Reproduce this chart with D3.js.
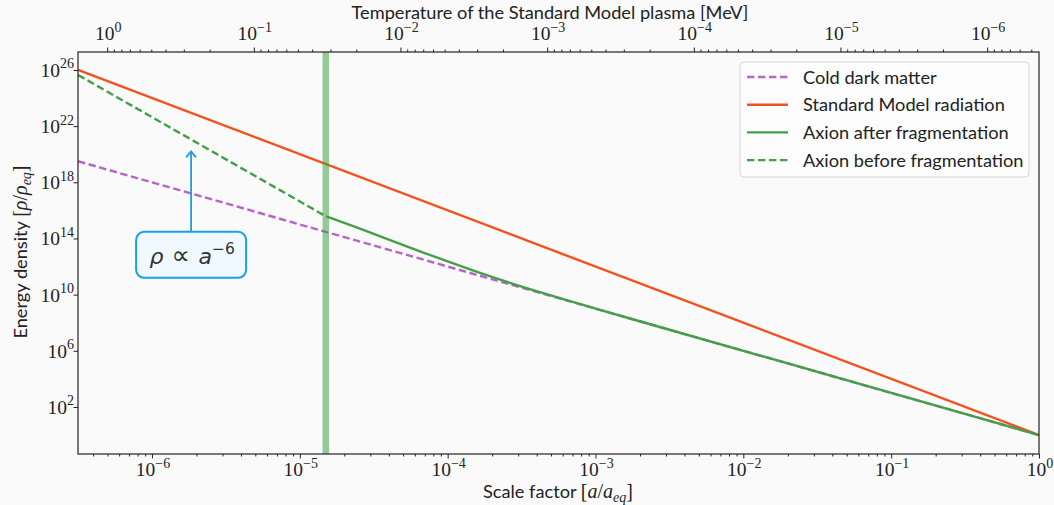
<!DOCTYPE html>
<html>
<head>
<meta charset="utf-8">
<script src="https://cdn.jsdelivr.net/npm/d3@7"></script>
<style>
  body { margin: 0; background: #fafafa; }
  svg { display: block; }
</style>
</head>
<body>
<svg id="chart"></svg>
<script>
// ---- data ----
var aDomain = [3.16e-7, 1];            // scale factor a/a_eq
var tempDomain = [1.58, 4.43e-7];      // temperature [MeV] at the same edges
var rhoDomain = [0.0447, 1.9e27];

var radiationA = [3.16e-7, 1];
var radiation = [1e26, 1];

var cdmA = [3.16e-7, 1];
var cdm = [3.16e19, 1];

var axionBeforeA = [3.16e-7, 1.5e-5];
var axionBefore = [4.4e25, 3.8e15];

var axionAfterA = [1.5e-5, 2.5e-5, 4e-5, 6.5e-5, 1e-4, 1.6e-4, 2.5e-4, 4e-4, 6.3e-4, 1e-3, 3e-3, 1];
var axionAfter = [3.8e15, 5.34e14, 8.24e13, 1.22e13, 2.3e12, 4.0e11, 8.3e10, 1.76e10, 4.2e9, 1.02e9, 3.71e7, 1];

var fragA = 1.5e-5;

var xTickExps = [-6, -5, -4, -3, -2, -1, 0];
var tTickExps = [0, -1, -2, -3, -4, -5, -6];
var yTickExps = [2, 6, 10, 14, 18, 22, 26];

var legendLabels = ["Cold dark matter", "Standard Model radiation", "Axion after fragmentation", "Axion before fragmentation"];

var annotA = 1.84e-6, annotTip = 1.6e20, annotText = 6.8e12;

// ---- layout ----
var W = 1054, H = 505;
var mLeft = 78, mRight = 1039, mTop = 52, mBottom = 454;

var cPurple = "#b565c8", cOrange = "#f4511e", cGreen = "#43a047", cBlue = "#1a9fe6";
var lw = 2.4, dash = "7.4,3.6";

var svg = d3.select("#chart").attr("width", W).attr("height", H);
svg.append("rect").attr("width", W).attr("height", H).attr("fill", "#fafafa");

var x = d3.scaleLog().domain(aDomain).range([mLeft, mRight]);
var xT = d3.scaleLog().domain(tempDomain).range([mLeft, mRight]);
var y = d3.scaleLog().domain(rhoDomain).range([mBottom, mTop]);

function pts(as, vs) { return as.map(function(a, i) { return [a, vs[i]]; }); }
var line = d3.line().x(function(d) { return x(d[0]); }).y(function(d) { return y(d[1]); });

var plot = svg.append("g");

plot.append("path").datum(pts(cdmA, cdm)).attr("d", line)
  .attr("fill", "none").attr("stroke", cPurple).attr("stroke-width", lw).attr("stroke-dasharray", dash);
plot.append("path").datum(pts(radiationA, radiation)).attr("d", line)
  .attr("fill", "none").attr("stroke", cOrange).attr("stroke-width", lw);
plot.append("path").datum(pts(axionAfterA, axionAfter)).attr("d", line.curve(d3.curveMonotoneX))
  .attr("fill", "none").attr("stroke", cGreen).attr("stroke-width", lw);
line.curve(d3.curveLinear);
plot.append("path").datum(pts(axionBeforeA, axionBefore)).attr("d", line)
  .attr("fill", "none").attr("stroke", cGreen).attr("stroke-width", lw).attr("stroke-dasharray", dash);

// fragmentation band
plot.append("rect").attr("x", x(fragA) - 3.3).attr("y", mTop).attr("width", 6.6).attr("height", mBottom - mTop)
  .attr("fill", cGreen).attr("opacity", 0.55);

// ---- axes ----
var serif = "'Liberation Serif', serif", sans = "Lato, 'DejaVu Sans', sans-serif";

function powLabel(sel, e) {
  sel.append("tspan").text("10");
  sel.append("tspan").attr("dy", -8.5).attr("font-size", 14).text(e < 0 ? "\u2212" + (-e) : e);
}
function isMajor(d) { return Math.abs(Math.log10(d) - Math.round(Math.log10(d))) < 1e-9; }

// bottom axis
var gx = svg.append("g").attr("transform", "translate(0," + mBottom + ")")
  .call(d3.axisBottom(x).tickValues(x.ticks()).tickSize(2.5).tickFormat(""));
gx.selectAll(".tick line").filter(isMajor).attr("y2", 4.5);
xTickExps.forEach(function(e) {
  var t = svg.append("text").attr("x", x(Math.pow(10, e)) + 1).attr("y", 476)
    .attr("text-anchor", "middle").attr("font-family", serif).attr("font-size", 19.5).attr("fill", "#222");
  powLabel(t, e);
});

// top axis
var gt = svg.append("g").attr("transform", "translate(0," + mTop + ")")
  .call(d3.axisTop(xT).tickValues(xT.ticks()).tickSize(2.5).tickFormat(""));
gt.selectAll(".tick line").filter(isMajor).attr("y2", -4.5);
tTickExps.forEach(function(e) {
  var t = svg.append("text").attr("x", xT(Math.pow(10, e)) + 1).attr("y", 40)
    .attr("text-anchor", "middle").attr("font-family", serif).attr("font-size", 19.5).attr("fill", "#222");
  powLabel(t, e);
});

// left axis
var gy = svg.append("g").attr("transform", "translate(" + mLeft + ",0)")
  .call(d3.axisLeft(y).tickValues(yTickExps.map(function(e) { return Math.pow(10, e); })).tickSize(4.5).tickFormat(""));
yTickExps.forEach(function(e) {
  var t = svg.append("text").attr("x", 74).attr("y", y(Math.pow(10, e)) + 7)
    .attr("text-anchor", "end").attr("font-family", serif).attr("font-size", 19.5).attr("fill", "#222");
  powLabel(t, e);
});

[gx, gt, gy].forEach(function(g) {
  g.select(".domain").remove();
  g.selectAll(".tick line").attr("stroke", "#222").attr("stroke-width", 1);
});

// frame
svg.append("rect").attr("x", mLeft).attr("y", mTop).attr("width", mRight - mLeft).attr("height", mBottom - mTop)
  .attr("fill", "none").attr("stroke", "#222").attr("stroke-width", 1.2);

// axis titles
svg.append("text").attr("x", 550).attr("y", 19).attr("text-anchor", "middle")
  .attr("font-family", sans).attr("font-size", 18.2).attr("fill", "#222")
  .text("Temperature of the Standard Model plasma [MeV]");

var xt = svg.append("text").attr("x", 558).attr("y", 498).attr("text-anchor", "middle")
  .attr("font-family", sans).attr("font-size", 18.2).attr("fill", "#222");
xt.append("tspan").text("Scale factor ");
xt.append("tspan").attr("font-family", serif).attr("font-size", 20).text("[");
xt.append("tspan").attr("font-family", serif).attr("font-size", 20).attr("font-style", "italic").text("a");
xt.append("tspan").attr("font-family", serif).attr("font-size", 20).text("/");
xt.append("tspan").attr("font-family", serif).attr("font-size", 20).attr("font-style", "italic").text("a");
xt.append("tspan").attr("font-family", serif).attr("font-style", "italic").attr("font-size", 14).attr("dy", 4).text("eq");
xt.append("tspan").attr("font-family", serif).attr("font-size", 20).attr("dy", -4).text("]");

var yt = svg.append("text").attr("transform", "translate(27,252) rotate(-90)").attr("text-anchor", "middle")
  .attr("font-family", sans).attr("font-size", 18.2).attr("fill", "#222");
yt.append("tspan").text("Energy density ");
yt.append("tspan").attr("font-family", serif).attr("font-size", 20).text("[");
yt.append("tspan").attr("font-family", serif).attr("font-size", 20).attr("font-style", "italic").text("\u03c1");
yt.append("tspan").attr("font-family", serif).attr("font-size", 20).text("/");
yt.append("tspan").attr("font-family", serif).attr("font-size", 20).attr("font-style", "italic").text("\u03c1");
yt.append("tspan").attr("font-family", serif).attr("font-style", "italic").attr("font-size", 14).attr("dy", 4).text("eq");
yt.append("tspan").attr("font-family", serif).attr("font-size", 20).attr("dy", -4).text("]");

// ---- legend ----
var lg = svg.append("g");
lg.append("rect").attr("x", 740).attr("y", 62).attr("width", 289).attr("height", 115).attr("rx", 4)
  .attr("fill", "#fdfdfd").attr("stroke", "#d6d6d6").attr("stroke-width", 1);
var legendStyle = [[cPurple, dash], [cOrange, null], [cGreen, null], [cGreen, dash]];
legendLabels.forEach(function(lab, i) {
  var yy = 77 + i * 27.7;
  lg.append("line").attr("x1", 747).attr("x2", 788).attr("y1", yy).attr("y2", yy)
    .attr("stroke", legendStyle[i][0]).attr("stroke-width", lw).attr("stroke-dasharray", legendStyle[i][1]);
  lg.append("text").attr("x", 803).attr("y", yy + 6.5).attr("font-family", sans).attr("font-size", 18.2)
    .attr("fill", "#222").text(lab);
});

// ---- annotation ----
var ax = x(annotA), tipY = y(annotTip), txtY = y(annotText);
var boxTop = txtY - 23;
var ag = svg.append("g");
ag.append("line").attr("x1", ax).attr("x2", ax).attr("y1", boxTop).attr("y2", tipY)
  .attr("stroke", cBlue).attr("stroke-width", 1.8);
ag.append("path").attr("d", "M" + (ax - 5) + "," + (tipY + 6) + "L" + ax + "," + tipY + "L" + (ax + 5) + "," + (tipY + 6))
  .attr("fill", "none").attr("stroke", cBlue).attr("stroke-width", 1.8);
ag.append("rect").attr("x", ax - 55).attr("y", boxTop).attr("width", 110).attr("height", 46).attr("rx", 8)
  .attr("fill", "#f0f9ff").attr("stroke", cBlue).attr("stroke-width", 2);
var at = ag.append("text").attr("x", ax + 1).attr("y", txtY + 9).attr("text-anchor", "middle")
  .attr("font-family", "'DejaVu Sans', sans-serif").attr("font-size", 22).attr("fill", "#333");
at.append("tspan").attr("font-style", "italic").text("\u03c1");
at.append("tspan").attr("font-size", 26).text(" \u221d ");
at.append("tspan").attr("font-style", "italic").text("a");
at.append("tspan").attr("dy", -10).attr("font-size", 15.5).text("\u22126");
</script>
</body>
</html>
